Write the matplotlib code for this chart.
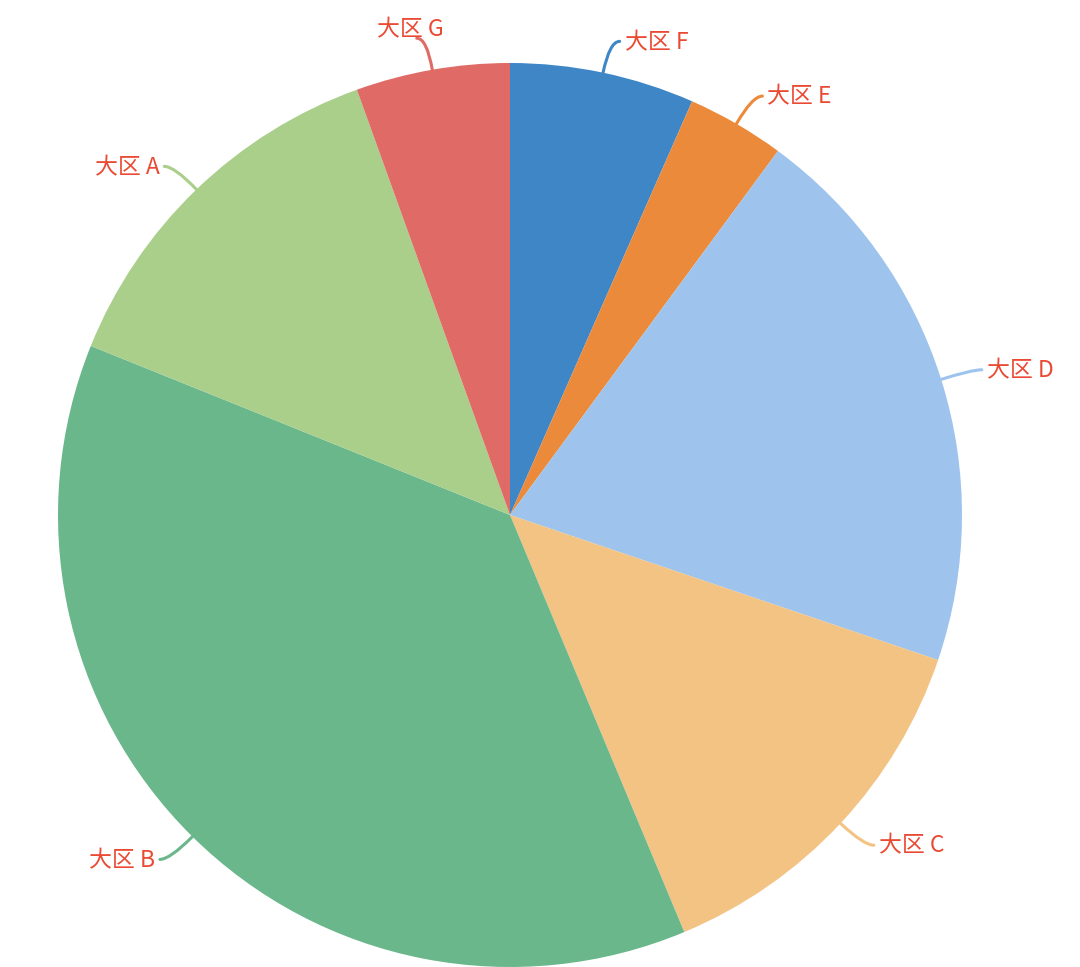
import numpy as np
import matplotlib
matplotlib.use('Agg')
import matplotlib.pyplot as plt
from matplotlib.path import Path
from matplotlib.patches import PathPatch

plt.rcParams['font.family'] = ['Noto Sans CJK SC', 'DejaVu Sans']

# 各大区占比（从图上估读，顺时针自12点起）
labels = ['大区 F', '大区 E', '大区 D', '大区 C', '大区 B', '大区 A', '大区 G']
values = [66, 35, 201, 135, 374, 134, 55]
colors = ['#3f86c6', '#ea8a3a', '#9ec4ee', '#f2c383', '#69b78b', '#a9cf8a', '#e06a66']
label_color = '#ea4a33'

W, H = 1080, 967
cx, cy, r = 510, H - 515, 452

fig = plt.figure(figsize=(W / 100, H / 100), dpi=100)
ax = fig.add_axes([0, 0, 1, 1])
wedges, _ = ax.pie(values, colors=colors, startangle=90, counterclock=False,
                   radius=r, center=(cx, cy), wedgeprops=dict(linewidth=0))

for w, lab, col in zip(wedges, labels, colors):
    a = np.deg2rad((w.theta1 + w.theta2) / 2)
    ca, sa = np.cos(a), np.sin(a)
    x1, y1 = cx + r * ca, cy + r * sa
    x2, y2 = cx + (r + 32) * ca, cy + (r + 32) * sa
    side = 1 if ca >= 0 else -1
    x3, y3 = x2 + side * 10, y2
    # 引导线：二次贝塞尔曲线
    p = Path([(x1, y1), (x2, y2), (x3, y3)], [Path.MOVETO, Path.CURVE3, Path.CURVE3])
    ax.add_patch(PathPatch(p, fill=False, edgecolor=col, lw=2.2, capstyle='round'))
    if abs(ca) < 0.19:
        # 靠近正上方的标签放在线头上方
        ax.text(x3 - 6, y3 + 8, lab, color=label_color, fontsize=16.5,
                ha='center', va='center')
    else:
        ax.text(x3 + side * 5, y3 - 1, lab, color=label_color, fontsize=16.5,
                ha='left' if side > 0 else 'right', va='center')

ax.set_xlim(0, W)
ax.set_ylim(0, H)
ax.set_aspect('equal')
ax.axis('off')

fig.savefig('out.png', dpi=100, facecolor='white')
